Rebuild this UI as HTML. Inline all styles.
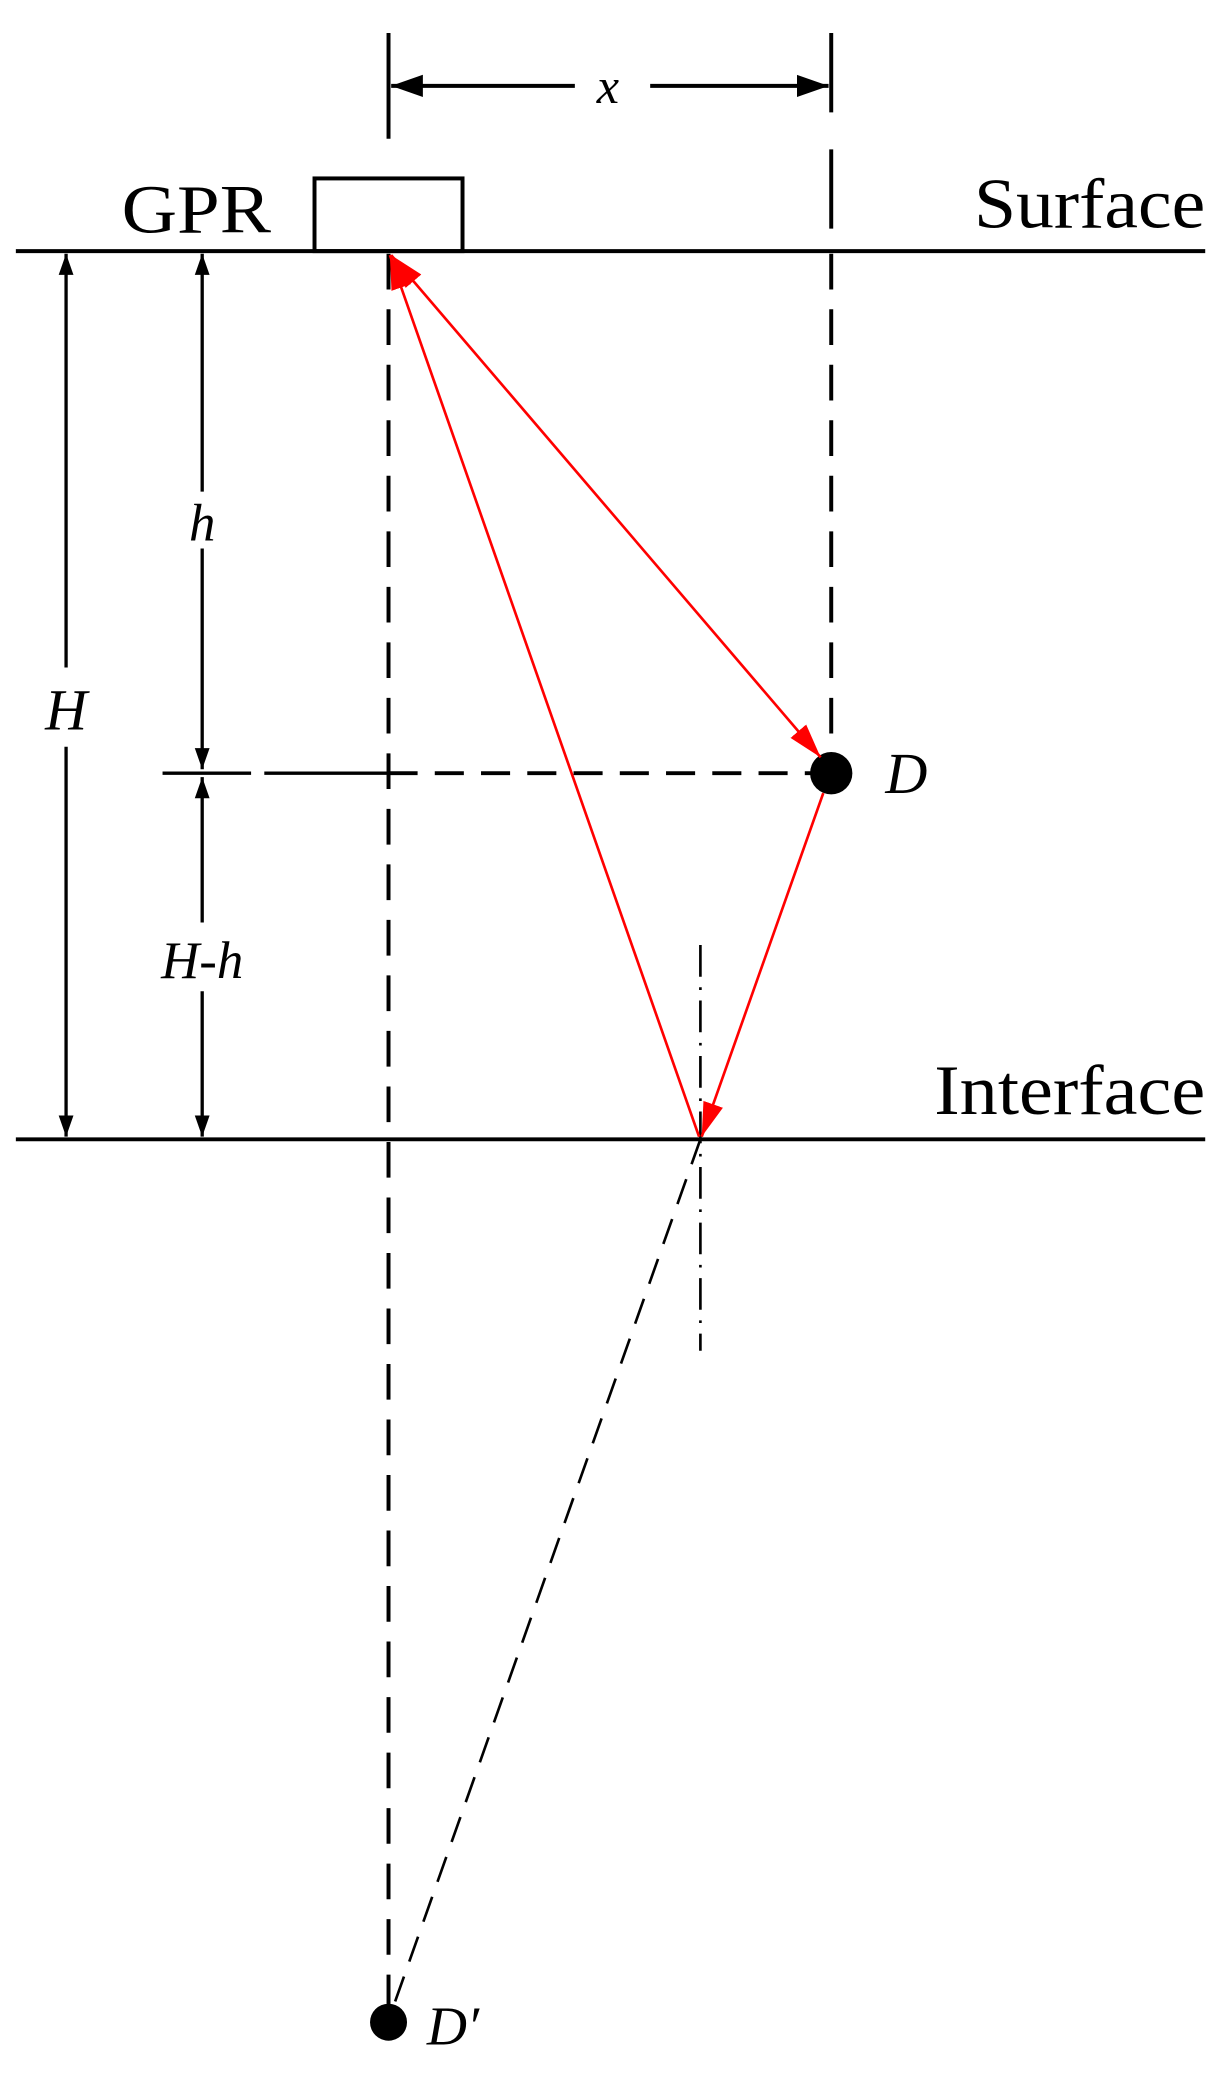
<!DOCTYPE html>
<html><head><style>html,body{margin:0;padding:0;background:#fff}svg{display:block}</style></head>
<body>
<svg width="1229" height="2083" viewBox="0 0 930 1576" preserveAspectRatio="none" xmlns="http://www.w3.org/2000/svg">
<defs>
<marker id="ab" viewBox="0 0 10 10" refX="10" refY="5" markerWidth="16" markerHeight="16" orient="auto-start-reverse" markerUnits="userSpaceOnUse"><path d="M0,1.5L10,5L0,8.5z" fill="#000"/></marker>
<marker id="ab2" viewBox="0 0 10 10" refX="10" refY="5" markerWidth="24" markerHeight="24" orient="auto-start-reverse" markerUnits="userSpaceOnUse"><path d="M0,1.5L10,5L0,8.5z" fill="#000"/></marker>
<marker id="ar" viewBox="0 0 10 10" refX="10" refY="5" markerWidth="26" markerHeight="26" orient="auto-start-reverse" markerUnits="userSpaceOnUse"><path d="M0,2L10,5L0,8z" fill="#f00"/></marker>
</defs>
<g font-family="Liberation Serif, serif" fill="#000">
<line x1="294" y1="25" x2="294" y2="105" stroke="#000" stroke-width="3"/>
<line x1="629" y1="25" x2="629" y2="190" stroke="#000" stroke-width="3" stroke-dasharray="60,28"/>
<line x1="435" y1="65" x2="296" y2="65" stroke="#000" stroke-width="3" marker-end="url(#ab2)"/>
<line x1="492" y1="65" x2="627" y2="65" stroke="#000" stroke-width="3" marker-end="url(#ab2)"/>
<text x="460" y="78" font-size="38" font-style="italic" text-anchor="middle">x</text>
<rect x="238" y="135" width="112" height="55" fill="none" stroke="#000" stroke-width="3"/>
<text x="92" y="176" font-size="52" textLength="113" lengthAdjust="spacingAndGlyphs">GPR</text>
<text x="737" y="172" font-size="54" textLength="175" lengthAdjust="spacingAndGlyphs">Surface</text>
<line x1="12" y1="190" x2="912" y2="190" stroke="#000" stroke-width="3"/>
<line x1="294" y1="192" x2="294" y2="1520" stroke="#000" stroke-width="3" stroke-dasharray="27,15"/>
<line x1="629" y1="192" x2="629" y2="570" stroke="#000" stroke-width="3" stroke-dasharray="27,15"/>
<line x1="50" y1="192" x2="50" y2="505" stroke="#000" stroke-width="2.5" marker-start="url(#ab)"/>
<line x1="50" y1="565" x2="50" y2="860" stroke="#000" stroke-width="2.5" marker-end="url(#ab)"/>
<text x="50" y="552" font-size="44" font-style="italic" text-anchor="middle">H</text>
<line x1="153" y1="192" x2="153" y2="372" stroke="#000" stroke-width="2.5" marker-start="url(#ab)"/>
<line x1="153" y1="415" x2="153" y2="582" stroke="#000" stroke-width="2.5" marker-end="url(#ab)"/>
<text x="153" y="409" font-size="40" font-style="italic" text-anchor="middle">h</text>
<line x1="123" y1="585" x2="190" y2="585" stroke="#000" stroke-width="2.5"/>
<line x1="153" y1="588" x2="153" y2="698" stroke="#000" stroke-width="2.5" marker-start="url(#ab)"/>
<line x1="153" y1="750" x2="153" y2="860" stroke="#000" stroke-width="2.5" marker-end="url(#ab)"/>
<text x="153" y="740" font-size="40" font-style="italic" text-anchor="middle">H-h</text>
<line x1="200" y1="585" x2="294" y2="585" stroke="#000" stroke-width="2.5"/>
<line x1="294" y1="585" x2="620" y2="585" stroke="#000" stroke-width="3" stroke-dasharray="22,13"/>
<circle cx="629" cy="585" r="16"/>
<text x="670" y="600" font-size="44" font-style="italic">D</text>
<text x="707" y="843" font-size="54" textLength="205" lengthAdjust="spacingAndGlyphs">Interface</text>
<line x1="12" y1="862" x2="912" y2="862" stroke="#000" stroke-width="3"/>
<line x1="530" y1="715" x2="530" y2="1022" stroke="#000" stroke-width="2" stroke-dasharray="24,8,2,8"/>
<line x1="296" y1="193" x2="621" y2="573" stroke="#f00" stroke-width="2" marker-start="url(#ar)" marker-end="url(#ar)"/>
<line x1="623" y1="600" x2="531" y2="860" stroke="#f00" stroke-width="2" marker-end="url(#ar)"/>
<line x1="529" y1="860" x2="295" y2="193" stroke="#f00" stroke-width="2" marker-end="url(#ar)"/>
<line x1="530" y1="862" x2="297" y2="1520" stroke="#000" stroke-width="2" stroke-dasharray="20,12"/>
<circle cx="294" cy="1530" r="14"/>
<text x="323" y="1547" font-size="42" font-style="italic">D′</text>
</g>
</svg>
</body></html>
